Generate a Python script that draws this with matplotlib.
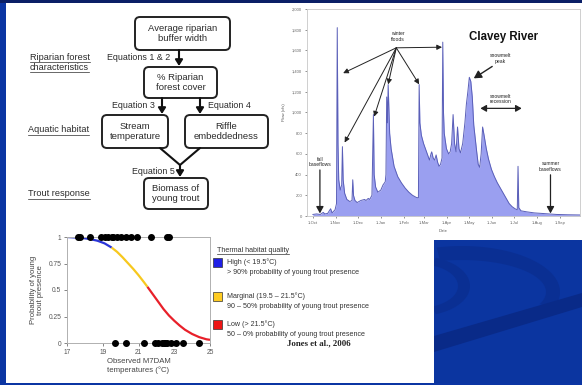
import matplotlib
matplotlib.use("Agg")
import matplotlib.pyplot as plt
from matplotlib.patches import Rectangle, FancyBboxPatch, Polygon
import numpy as np

plt.rcParams['font.family'] = ['Liberation Sans', 'DejaVu Sans']

W, H = 582, 385

# ---------------- data: Clavey River hydrograph (day of water year from 1-Oct, flow cfs)
flow_days = [0, 5, 10, 14, 16, 20, 24, 26, 30, 32, 33, 34, 35, 37, 39, 40, 41, 43, 46, 50,
             53, 54, 55, 57, 60, 65, 70, 72, 75, 77, 80, 82, 83, 85, 88, 92, 95, 98, 99, 100,
             101, 102, 104, 106, 110, 115, 120, 125, 130, 135, 140, 143, 144, 145, 147, 150,
             153, 156, 158, 160, 161, 163, 165, 167, 169, 171, 173, 175, 176, 177, 178, 181,
             184, 186, 188, 190, 192, 194, 196, 198, 200, 203, 206, 208, 210, 212, 214, 216,
             218, 220, 222, 224, 226, 228, 230, 232, 235, 238, 242, 246, 250, 254, 258, 262,
             266, 270, 274, 277, 278, 279, 282, 290, 300, 310, 320, 330, 345, 362]
flow_cfs = [15, 20, 15, 35, 20, 25, 70, 30, 60, 120, 1820, 700, 350, 250, 300, 670, 350, 220, 160, 140,
            150, 350, 200, 150, 130, 150, 160, 150, 170, 160, 200, 980, 400, 280, 230, 250, 300, 330, 400, 1150,
            900, 1270, 800, 650, 480, 380, 320, 270, 230, 200, 180, 175, 1270, 900, 780, 700,
            640, 580, 540, 600, 620, 560, 540, 590, 520, 480, 500, 560, 1680, 1000, 800, 650,
            600, 620, 700, 980, 700, 620, 860, 650, 610, 700, 900, 1080, 1200, 1340, 1300, 1150,
            880, 750, 620, 500, 470, 600, 860, 780, 650, 550, 450, 380, 320, 270, 220, 170,
            120, 90, 70, 60, 480, 80, 50, 40, 30, 25, 20, 15, 12, 10]
month_days = [0, 31, 61, 92, 123, 151, 182, 212, 243, 273, 304, 335]
month_labels = ["1-Oct", "1-Nov", "1-Dec", "1-Jan", "1-Feb", "1-Mar", "1-Apr", "1-May",
                "1-Jun", "1-Jul", "1-Aug", "1-Sep"]
flow_ticks = [0, 200, 400, 600, 800, 1000, 1200, 1400, 1600, 1800, 2000]

# ---------------- data: probability of young trout vs temperature
curve_high_t = [17.0, 17.5, 17.9, 18.3, 18.7, 19.1, 19.5]
curve_high_p = [1.0, 0.995, 0.99, 0.98, 0.965, 0.94, 0.9]
curve_marg_t = [19.5, 19.8, 20.1, 20.4, 20.7, 21.0, 21.3, 21.5]
curve_marg_p = [0.9, 0.86, 0.81, 0.755, 0.70, 0.64, 0.575, 0.53]
curve_low_t = [21.5, 21.8, 22.1, 22.4, 22.7, 23.0, 23.3, 23.6, 24.0, 24.4, 24.8, 25.0]
curve_low_p = [0.53, 0.46, 0.39, 0.32, 0.26, 0.21, 0.165, 0.125, 0.085, 0.055, 0.035, 0.03]
present_t = [17.6, 17.7, 18.3, 18.9, 19.1, 19.3, 19.5, 19.6, 19.8, 20.0, 20.3, 20.6, 20.9, 21.7, 22.6, 22.7]
absent_t = [19.7, 20.3, 21.3, 21.9, 22.1, 22.3, 22.4, 22.5, 22.6, 22.8, 23.1, 23.5, 24.4]
temp_ticks = [17, 19, 21, 23, 25]
prob_ticks = [0, 0.25, 0.5, 0.75, 1]
prob_labels = ["0", "0.25", "0.5", "0.75", "1"]

fig = plt.figure(figsize=(W / 100, H / 100), dpi=100)
fig.patch.set_facecolor("white")


def rect(l, t, r, b):
    return [l / W, 1 - b / H, (r - l) / W, (b - t) / H]


def band(cx, cy, rx_o, ry_o, rx_i, ry_i, a0, a1, n=60):
    th = np.radians(np.linspace(a0, a1, n))
    outer = np.column_stack([cx + rx_o * np.cos(th), cy - ry_o * np.sin(th)])
    inner = np.column_stack([cx + rx_i * np.cos(th[::-1]), cy - ry_i * np.sin(th[::-1])])
    return np.vstack([outer, inner])


# ---------------- background / decoration layer
bg = fig.add_axes([0, 0, 1, 1], zorder=0)
bg.set_xlim(0, W)
bg.set_ylim(H, 0)
bg.axis("off")
slide_blue = "#0b35a3"
bg.add_patch(Rectangle((0, 0), 6, H, color=slide_blue, lw=0))
bg.add_patch(Rectangle((0, 0), W, 3, color="#0b1f66", lw=0))
bg.add_patch(Rectangle((0, 383), W, 2, color=slide_blue, lw=0))
block = Rectangle((434, 240), W - 434, H - 240, color="#0b35a0", lw=0, zorder=0)
bg.add_patch(block)
dark = "#0a2f93"
darker = "#092a88"
swooshes = [
    Polygon(band(462, 292, 98, 46, 84, 32, 105, -22), closed=True, color=dark, lw=0),
    Polygon(band(418, 286, 52, 30, 40, 22, 70, -70), closed=True, color=dark, lw=0),
    Polygon([(434, 336), (582, 293), (582, 307), (434, 352)], closed=True, color=darker, lw=0),
]
for p in swooshes:
    bg.add_patch(p)
    p.set_clip_path(block)

# ---------------- flowchart
tc = "#2b2b2b"
fs = 6.8
boxes = [
    (135, 17, 230, 50, "Average riparian\nbuffer width"),
    (144, 67, 217, 98, "% Riparian\nforest cover"),
    (102, 115, 168, 148, "Stream\ntemperature"),
    (185, 115, 268, 148, "Riffle\nembeddedness"),
    (144, 178, 208, 209, "Biomass of\nyoung trout"),
]
for l, t, r, b, txt in boxes:
    bg.add_patch(FancyBboxPatch((l, t), r - l, b - t, boxstyle="round,pad=0,rounding_size=5",
                                fc="white", ec="#222222", lw=1.4))
    bg.text((l + r) / 2, (t + b) / 2, txt, ha="center", va="center", fontsize=fs, color=tc,
            linespacing=1.2)

arr = dict(arrowstyle="-|>,head_length=0.35,head_width=0.22", color="#111111", lw=1.5,
           shrinkA=0, shrinkB=0)
bg.annotate("", xy=(179, 66), xytext=(179, 50), arrowprops=arr)
bg.annotate("", xy=(162, 114), xytext=(162, 98), arrowprops=arr)
bg.annotate("", xy=(200, 114), xytext=(200, 98), arrowprops=arr)
bg.plot([160, 180, 200], [148, 165, 148], color="#111111", lw=1.5, solid_capstyle="round")
bg.annotate("", xy=(180, 177), xytext=(180, 165), arrowprops=arr)

efs = 6.4
bg.text(170, 57, "Equations 1 & 2", ha="right", va="center", fontsize=efs, color=tc)
bg.text(155, 106, "Equation 3", ha="right", va="center", fontsize=efs, color=tc)
bg.text(208, 106, "Equation 4", ha="left", va="center", fontsize=efs, color=tc)
bg.text(175, 171, "Equation 5", ha="right", va="center", fontsize=efs, color=tc)

side_labels = [(30, 57, "Riparian forest"), (30, 67, "characteristics"),
               (28, 130, "Aquatic habitat"), (28, 194, "Trout response")]
side_texts = []
for x, y, s in side_labels:
    side_texts.append(bg.text(x, y, s, ha="left", va="center", fontsize=6.6, color=tc))

# ---------------- Clavey River hydrograph
axr = fig.add_axes(rect(307, 9, 580, 216), zorder=1)
axr.set_facecolor("white")
axr.fill_between(flow_days, flow_cfs, 0, color="#9a9ff0", lw=0)
axr.plot(flow_days, flow_cfs, color="#5a5fb8", lw=0.7)
axr.set_xlim(-8, 362)
axr.set_ylim(0, 2000)
axr.set_xticks(month_days)
axr.set_xticklabels(month_labels)
axr.set_yticks(flow_ticks)
axr.set_yticklabels([f"{v:,}" for v in flow_ticks])
axr.tick_params(labelsize=3, colors="#666666", length=1.5, width=0.5, pad=2)
for sp in axr.spines.values():
    sp.set_color("#c8c8c8")
    sp.set_linewidth(0.6)
axr.set_ylabel("Flow (cfs)", fontsize=3, color="#555555", labelpad=4)
axr.set_xlabel("Date", fontsize=3, color="#555555", labelpad=3)
axr.text(258, 1725, "Clavey River", ha="center", va="center", fontsize=8.3, fontweight="bold",
         color="#111111")

ann_fs = 3.6
ac = "#222222"
small = dict(arrowstyle="-|>,head_length=0.3,head_width=0.15", color=ac, lw=0.7,
             shrinkA=0, shrinkB=0)
axr.text(115, 1735, "winter\nfloods", ha="center", va="center", fontsize=ann_fs, color=ac,
         linespacing=1.1)
origin = (113, 1625)
for tgt in [(41, 1380), (43, 710), (83, 960), (102, 1272), (144, 1272), (175, 1631)]:
    axr.annotate("", xy=tgt, xytext=origin, arrowprops=small)
axr.text(254, 1520, "snowmelt\npeak", ha="center", va="center", fontsize=ann_fs, color=ac,
         linespacing=1.1)
axr.annotate("", xy=(218, 1330), xytext=(243, 1445),
             arrowprops=dict(arrowstyle="-|>,head_length=0.45,head_width=0.25", color=ac, lw=1.0,
                             shrinkA=0, shrinkB=0))
axr.text(254, 1130, "snowmelt\nrecession", ha="center", va="center", fontsize=ann_fs, color=ac,
         linespacing=1.1)
axr.annotate("", xy=(227, 1040), xytext=(283, 1040),
             arrowprops=dict(arrowstyle="<|-|>,head_length=0.35,head_width=0.2", color=ac, lw=0.9,
                             shrinkA=0, shrinkB=0))
axr.text(9.5, 520, "fall\nbaseflows", ha="center", va="center", fontsize=ann_fs, color=ac,
         linespacing=1.1)
axr.annotate("", xy=(9.5, 25), xytext=(9.5, 445),
             arrowprops=dict(arrowstyle="-|>,head_length=0.4,head_width=0.22", color=ac, lw=0.9,
                             shrinkA=0, shrinkB=0))
axr.text(322, 480, "summer\nbaseflows", ha="center", va="center", fontsize=ann_fs, color=ac,
         linespacing=1.1)
axr.annotate("", xy=(322, 25), xytext=(322, 398),
             arrowprops=dict(arrowstyle="-|>,head_length=0.4,head_width=0.22", color=ac, lw=0.9,
                             shrinkA=0, shrinkB=0))

# ---------------- probability chart
axp = fig.add_axes(rect(67, 237, 210, 343), zorder=1)
axp.set_facecolor("white")
axp.plot(curve_high_t, curve_high_p, color="#2a35d8", lw=1.6, solid_capstyle="butt")
axp.plot(curve_marg_t, curve_marg_p, color="#f7c81e", lw=1.6, solid_capstyle="butt")
axp.plot(curve_low_t, curve_low_p, color="#e8202a", lw=1.6, solid_capstyle="butt")
axp.scatter(present_t, [1] * len(present_t), s=16, color="black", zorder=5, clip_on=False)
axp.scatter(absent_t, [0] * len(absent_t), s=16, color="black", zorder=5, clip_on=False)
axp.set_xlim(17, 25)
axp.set_ylim(0, 1)
axp.set_xticks(temp_ticks)
axp.set_yticks(prob_ticks)
axp.set_yticklabels(prob_labels)
axp.tick_params(labelsize=4.8, colors="#555555", length=2, width=0.5, pad=2)
for sp in axp.spines.values():
    sp.set_color("#b0b0b0")
    sp.set_linewidth(0.7)
axp.set_ylabel("Probability of young\ntrout presence", fontsize=5.6, color="#444444",
               labelpad=3, linespacing=1.1)
axp.set_xlabel("Observed M7DAM\ntemperatures (\u00b0C)", fontsize=5.6, color="#444444",
               labelpad=2, linespacing=1.15)

lg_fs = 5.1
ttl = bg.text(217, 250, "Thermal habitat quality", ha="left", va="center", fontsize=lg_fs,
              color="#333333")
legend_items = [("#1f1fe6", "High (< 19.5\u00b0C)", "> 90% probability of young trout presence", 262),
                ("#ffcc22", "Marginal (19.5 \u2013 21.5\u00b0C)", "90 \u2013 50% probability of young trout presence", 296),
                ("#ee1515", "Low (> 21.5\u00b0C)", "50 \u2013 0% probability of young trout presence", 324)]
for col, l1, l2, yc in legend_items:
    bg.add_patch(Rectangle((213, yc - 4.5), 9, 9, fc=col, ec="#333333", lw=0.5, zorder=3))
    bg.text(227, yc, l1, ha="left", va="center", fontsize=lg_fs, color="#333333")
    bg.text(227, yc + 11, l2, ha="left", va="center", fontsize=lg_fs, color="#333333")

bg.text(319, 343, "Jones et al., 2006", ha="center", va="center", fontsize=6.3,
        fontweight="bold", family="Liberation Serif", color="#222222")

# underlines
fig.canvas.draw()
rend = fig.canvas.get_renderer()
inv = bg.transData.inverted()
for t in side_texts + [ttl]:
    bb = t.get_window_extent(rend)
    (x0, y0), (x1, y1) = inv.transform([(bb.x0, bb.y0), (bb.x1, bb.y1)])
    bg.plot([x0, x1], [y0 + 0.3, y0 + 0.3], color=t.get_color(), lw=0.5)

fig.savefig("out.png", dpi=100)
